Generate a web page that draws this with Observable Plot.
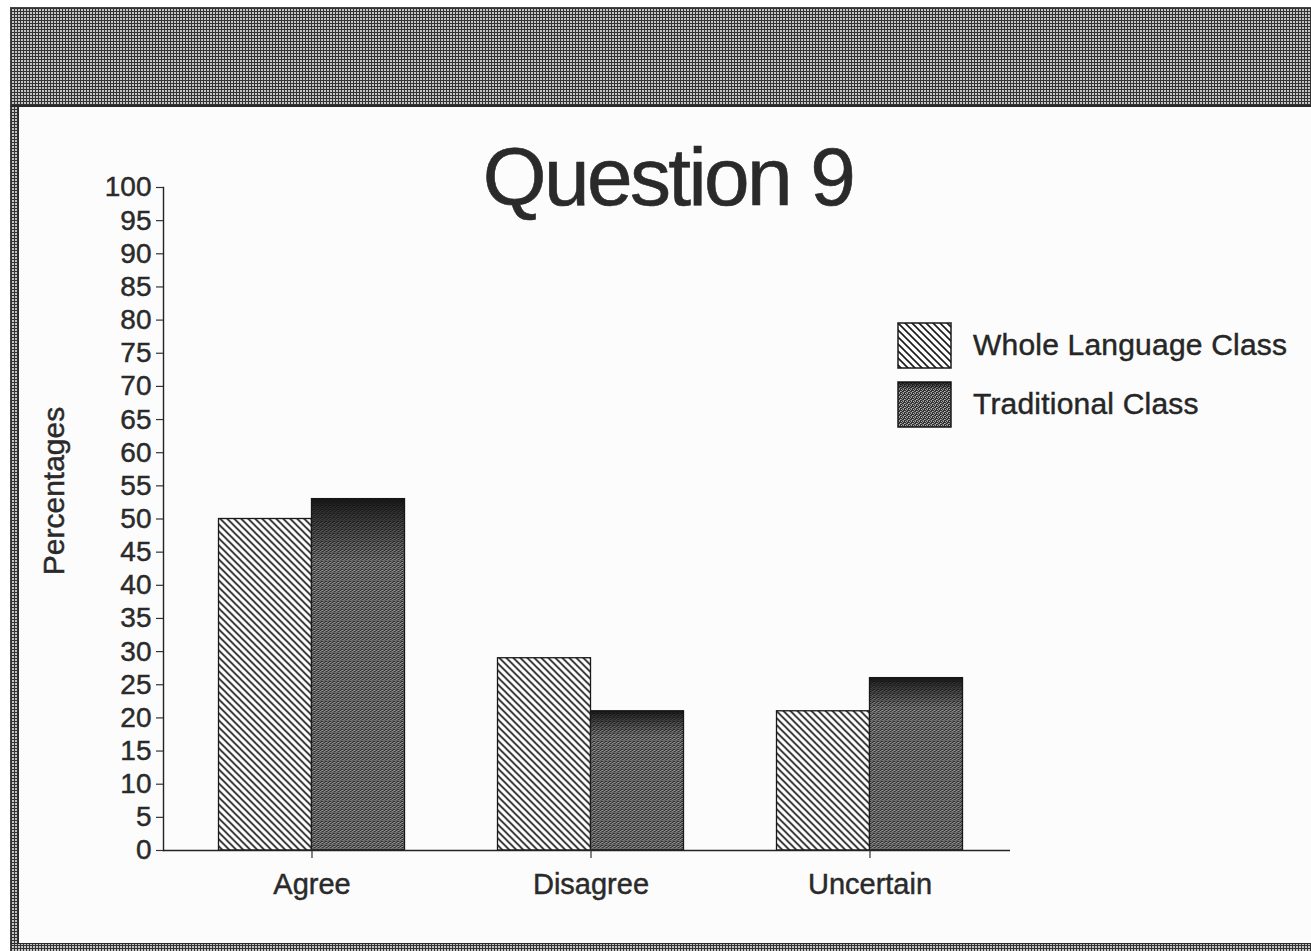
<!DOCTYPE html>
<html>
<head>
<meta charset="utf-8">
<script src="https://cdn.jsdelivr.net/npm/d3@7"></script>
<script src="https://cdn.jsdelivr.net/npm/@observablehq/plot@0.6"></script>
<style>
  html, body { margin: 0; padding: 0; background: #ffffff; }
  #page { position: relative; width: 1311px; height: 951px; overflow: hidden; background: #fcfcfc;
          font-family: "Liberation Sans", Arial, Helvetica, sans-serif; color: #2a2a2a; }
  .grid { position: absolute; background-color: #c4c4c4;
          background-image: repeating-linear-gradient(0deg, #333 0 1px, transparent 1px 3px),
                            repeating-linear-gradient(90deg, #333 0 1px, transparent 1px 3px); }
  #outer-white-top { position: absolute; left: 0; top: 0; width: 1311px; height: 7px; background: #fff; }
  #outer-white-left { position: absolute; left: 0; top: 0; width: 10px; height: 951px; background: #fff; }
  #banner { left: 10px; top: 7px; width: 1301px; height: 97px; border-top: 1px solid #444; border-left: 1px solid #444; border-bottom: 2px solid #2a2a2a; }
  #leftstrip { left: 10px; top: 107px; width: 7px; height: 837px; border-left: 1px solid #444; border-right: 1px solid #2a2a2a; }
  #bottomstrip { left: 10px; top: 943px; width: 1301px; height: 8px; border-top: 1px solid #2a2a2a; border-left: 1px solid #444; }
  #title { position: absolute; left: 368px; width: 600px; top: 136px; text-align: center;
           font-size: 82px; line-height: 82px; letter-spacing: -2.6px; color: #2a2a2a; white-space: nowrap;
           -webkit-text-stroke: 0.6px #2a2a2a; }
  #chart { position: absolute; left: 0; top: 0; }
  #chart svg text { stroke: #2a2a2a; stroke-width: 0.45px; }
  .legend-item { position: absolute; left: 897px; height: 46px; }
  .legend-item svg { position: absolute; left: 0; top: 0; }
  .legend-item span { position: absolute; left: 76px; top: 8px; font-size: 30px; line-height: 30px;
                      letter-spacing: 0.2px; white-space: nowrap; color: #262626;
                      -webkit-text-stroke: 0.45px #262626; }
</style>
</head>
<body>
<svg width="0" height="0" style="position:absolute">
  <defs>
    <pattern id="hatch" patternUnits="userSpaceOnUse" width="7" height="7">
      <rect width="7" height="7" fill="#fdfdfd"></rect>
      <path d="M-1,-1 L8,8 M-8,-1 L1,8 M6,-1 L15,8" stroke="#1a1a1a" stroke-width="1.6"></path>
    </pattern>
    <pattern id="stipple" patternUnits="userSpaceOnUse" width="4" height="4">
      <rect width="4" height="4" fill="#303030"></rect>
      <rect x="0" y="0" width="1" height="1" fill="#b0b0b0"></rect>
      <rect x="2" y="0" width="1" height="1" fill="#909090"></rect>
      <rect x="1" y="1" width="1" height="1" fill="#a0a0a0"></rect>
      <rect x="3" y="2" width="1" height="1" fill="#bababa"></rect>
      <rect x="0" y="2" width="1" height="1" fill="#848484"></rect>
      <rect x="2" y="3" width="1" height="1" fill="#a6a6a6"></rect>
      <rect x="1" y="3" width="1" height="1" fill="#6c6c6c"></rect>
    </pattern>
    <linearGradient id="shade" x1="0" y1="0" x2="0" y2="1">
      <stop offset="0" stop-color="#111" stop-opacity="0.95"></stop>
      <stop offset="0.04" stop-color="#111" stop-opacity="0.7"></stop>
      <stop offset="0.18" stop-color="#111" stop-opacity="0"></stop>
      <stop offset="1" stop-color="#111" stop-opacity="0"></stop>
    </linearGradient>
  </defs>
</svg>
<div id="page">
  <div id="outer-white-top"></div>
  <div id="outer-white-left"></div>
  <div id="banner" class="grid"></div>
  <div id="leftstrip" class="grid"></div>
  <div id="bottomstrip" class="grid"></div>
  <div id="chart"></div>
  <div id="title">Question 9</div>
  <div id="legend"></div>
</div>
<script>
// ---- data ----
const titleText = "Question 9";
const yLabel = "Percentages";
const categories = ["Agree", "Disagree", "Uncertain"];
const series = ["Whole Language Class", "Traditional Class"];
const wholeLanguage = [50, 29, 21];
const traditional = [53, 21, 26];
const yTicks = [0, 5, 10, 15, 20, 25, 30, 35, 40, 45, 50, 55, 60, 65, 70, 75, 80, 85, 90, 95, 100];
const seriesFills = ["url(#hatch)", "url(#stipple)"];

const rows = [];
categories.forEach((c, i) => {
  rows.push({category: c, series: series[0], value: wholeLanguage[i]});
  rows.push({category: c, series: series[1], value: traditional[i]});
});
const wl = rows.filter(d => d.series === series[0]);
const tr = rows.filter(d => d.series === series[1]);

const half = 46.5; // half bar width offset so the two bars meet at the category tick

const chart = Plot.plot({
  width: 1311,
  height: 951,
  marginTop: 187,
  marginBottom: 101,
  marginLeft: 163,
  marginRight: 301,
  x: {domain: categories, paddingInner: 0.667, paddingOuter: 0.351, align: 0.518, label: null},
  y: {domain: [0, 100], label: null},
  style: {
    fontFamily: '"Liberation Sans", Arial, Helvetica, sans-serif',
    fontSize: "28px",
    color: "#2a2a2a",
    background: "transparent",
    overflow: "visible"
  },
  marks: [
    Plot.barY(wl, {x: "category", y: "value", fill: seriesFills[0], stroke: "#1a1a1a", strokeWidth: 1.3, dx: -half}),
    Plot.barY(tr, {x: "category", y: "value", fill: seriesFills[1], stroke: "#1a1a1a", strokeWidth: 1.3, dx: half}),
    Plot.barY(tr, {x: "category", y: "value", fill: "url(#shade)", dx: half}),
    Plot.ruleY([0], {stroke: "#222", strokeWidth: 1.6}),
    Plot.frame({anchor: "left", stroke: "#222", strokeWidth: 1.4}),
    Plot.axisY({ticks: yTicks, tickSize: 7, tickPadding: 5, label: null, stroke: "#333", strokeWidth: 1.2}),
    Plot.axisX({tickSize: 8, tickPadding: 15, label: null, fontSize: 29, stroke: "#333", strokeWidth: 1.2}),
    Plot.text([yLabel], {frameAnchor: "left", rotate: -90, textAnchor: "middle", fontSize: 30,
                         dx: -109, dy: -28, fill: "#2a2a2a"})
  ]
});
document.getElementById("chart").appendChild(chart);
document.getElementById("title").textContent = titleText;

const legend = document.getElementById("legend");
series.forEach((s, i) => {
  const item = document.createElement("div");
  item.className = "legend-item";
  item.style.top = (322 + i * 59) + "px";
  item.innerHTML = `<svg width="56" height="48"><rect x="1" y="1" width="53" height="45" fill="${seriesFills[i]}" stroke="#1a1a1a" stroke-width="1.5"></rect>${i === 1 ? '<rect x="1" y="1" width="53" height="45" fill="url(#shade)"></rect>' : ''}</svg><span></span>`;
  item.querySelector("span").textContent = s;
  legend.appendChild(item);
});
</script>
</body>
</html>
